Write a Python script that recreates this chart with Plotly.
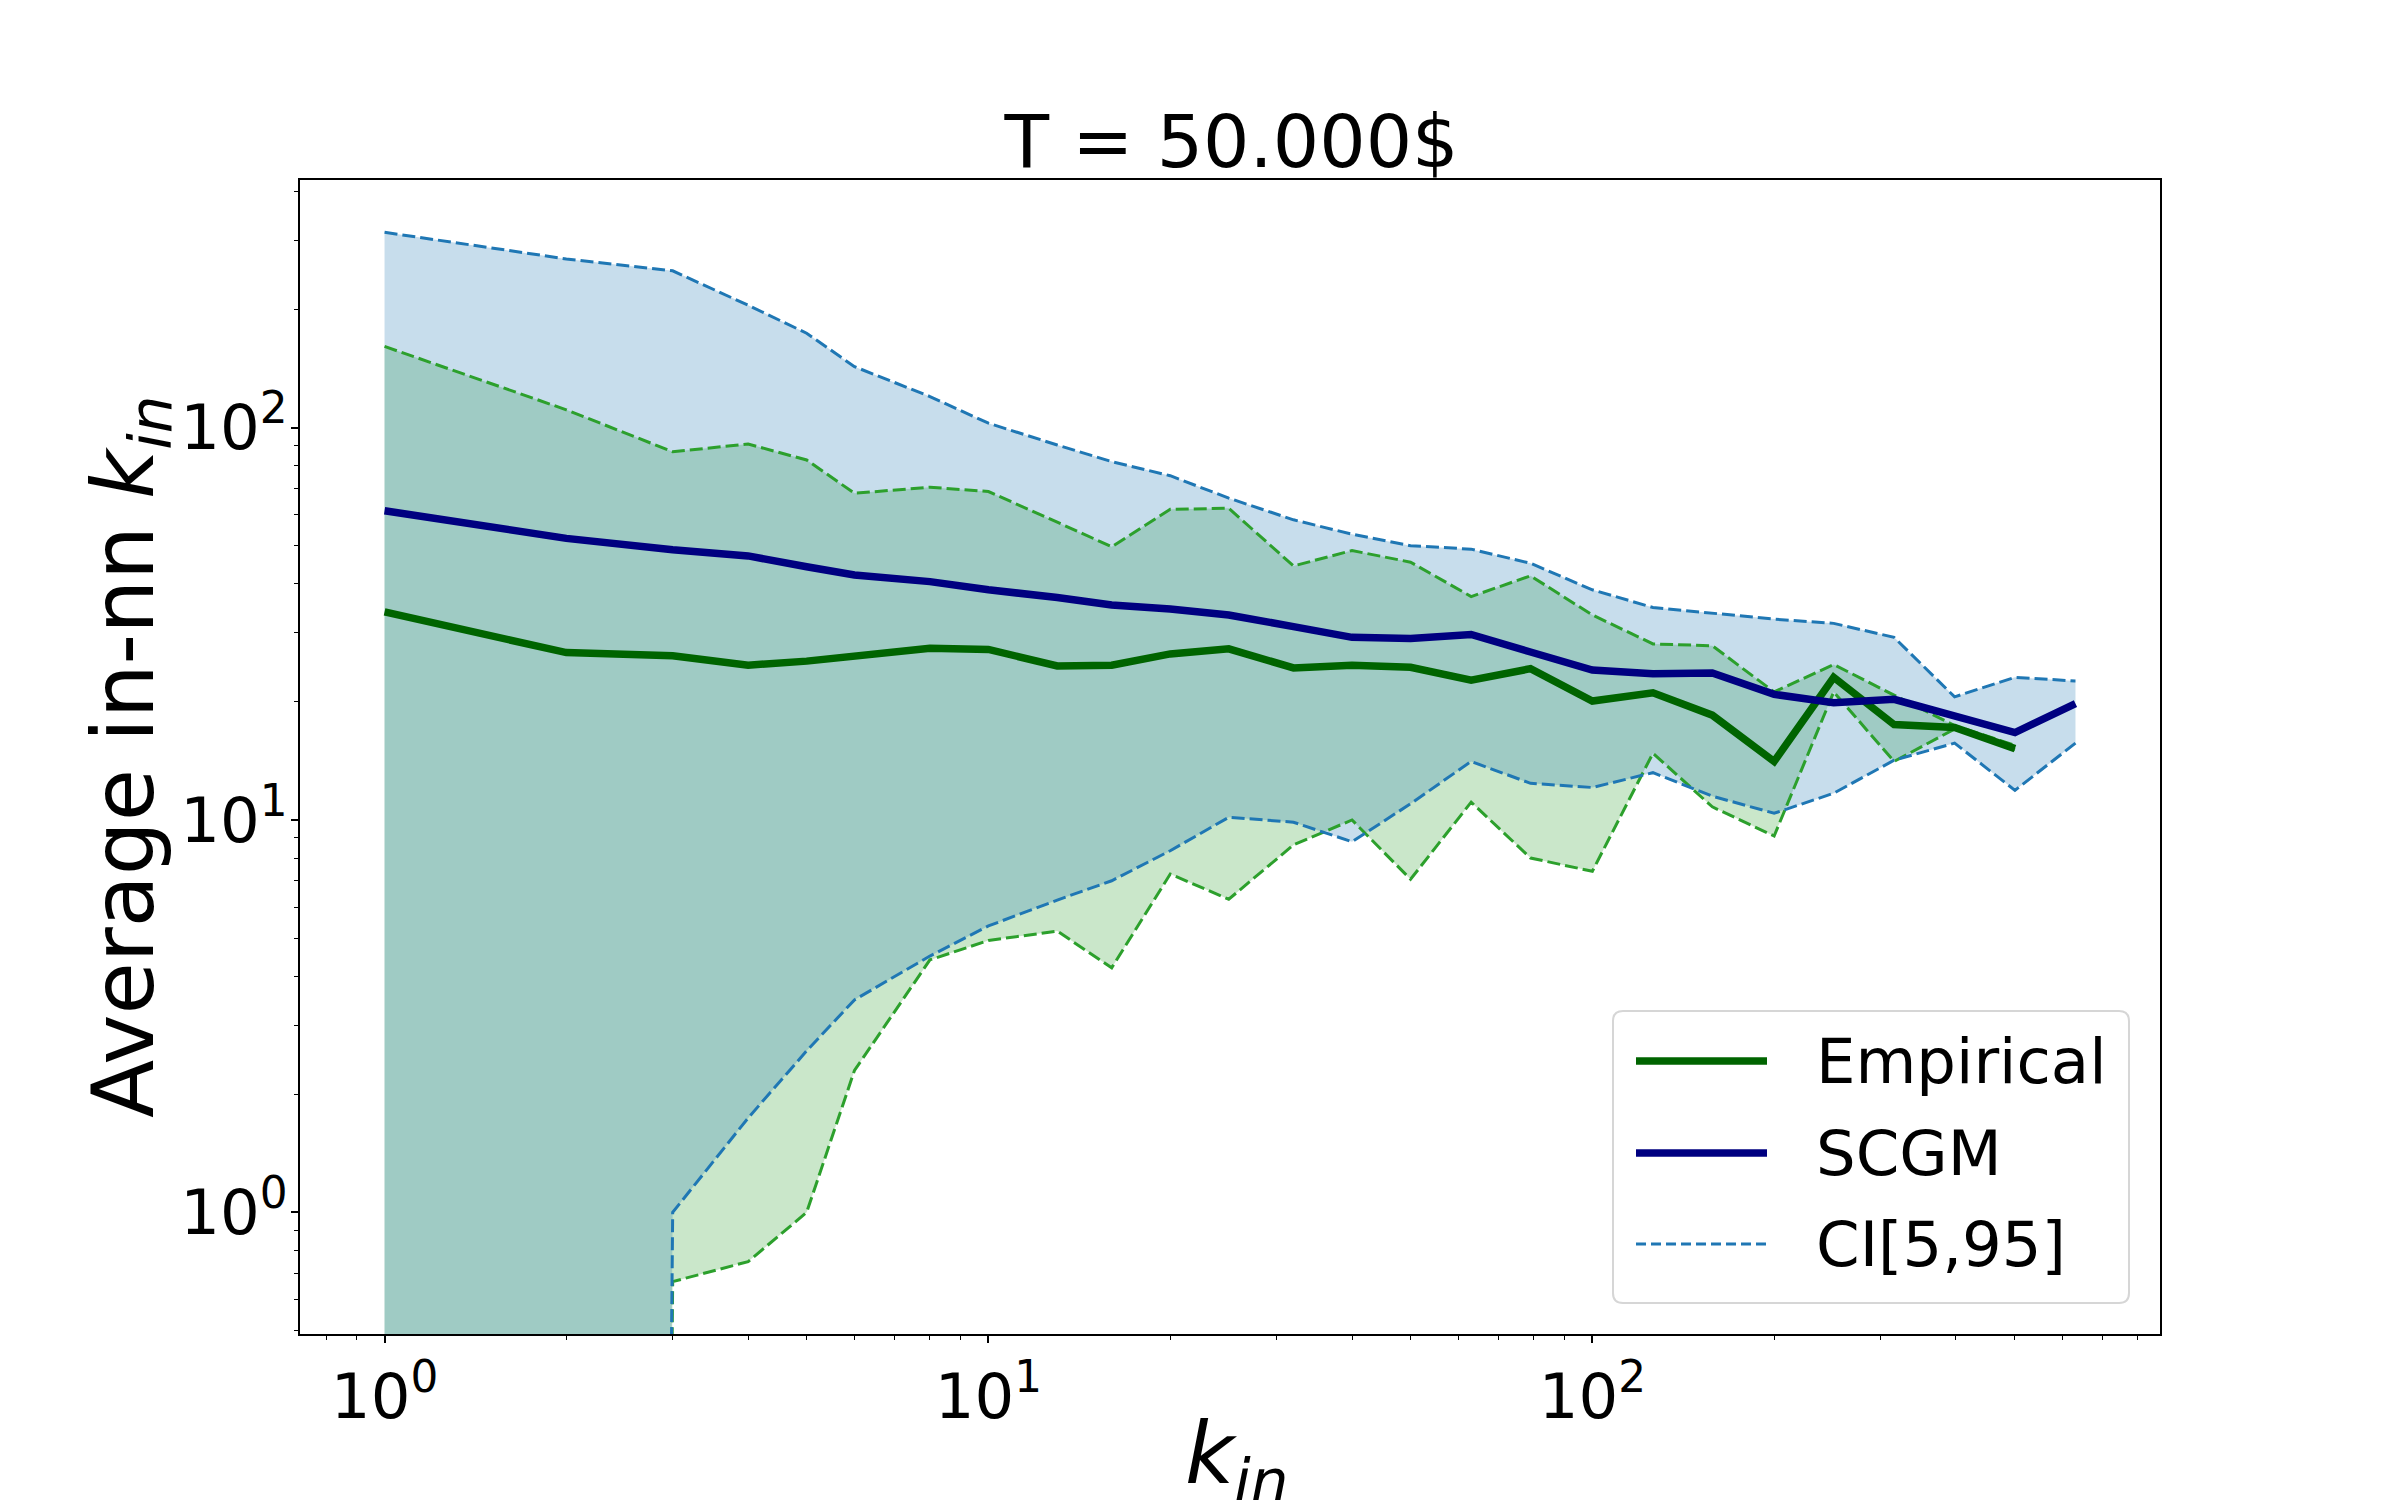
import plotly.graph_objects as go

# degree bins (x) and average in-nn degree curves
k_in = [1, 2, 3, 4, 5, 6, 8, 10, 13, 16, 20, 25, 32, 40, 50, 63, 79,
        100, 126, 158, 200, 251, 316, 398, 501, 631]

empirical = [33.9, 26.7, 26.2, 24.8, 25.4, 26.1, 27.4, 27.2, 24.7, 24.8,
             26.5, 27.3, 24.4, 24.8, 24.5, 22.7, 24.3, 20.1, 21.1, 18.5,
             14.1, 23.1, 17.5, 17.2, 15.2]
scgm = [61.4, 52.2, 48.8, 47.1, 44.2, 42.1, 40.5, 38.6, 36.9, 35.3,
        34.5, 33.3, 31.1, 29.2, 29.0, 29.7, 26.8, 24.1, 23.6, 23.7,
        20.9, 19.9, 20.3, 18.5, 16.7, 19.8]

# CI[5,95] bands (0 = lower bound at zero, off the log axis)
emp_ci_low = [0, 0, 0.666, 0.749, 1.0, 2.30, 4.40, 4.93, 5.21, 4.20,
              7.28, 6.28, 8.64, 10.0, 7.06, 11.1, 8.0, 7.4, 14.8, 10.8,
              9.1, 21.2, 14.1, 17.06, 15.1]
emp_ci_high = [161, 111, 86.8, 90.8, 82.7, 68, 70.5, 68.7, 57.4, 49.7,
               61.9, 62.3, 44.4, 48.6, 45.4, 37.1, 41.9, 33.3, 28.1, 27.8,
               21.2, 24.9, 20.8, 17.4, 15.5]
scgm_ci_low = [0, 0, 1.0, 1.74, 2.58, 3.48, 4.50, 5.37, 6.25, 7.0,
               8.35, 10.16, 9.87, 8.8, 11.0, 14.1, 12.4, 12.1, 13.2, 11.5,
               10.4, 11.7, 14.2, 15.7, 11.9, 15.7]
scgm_ci_high = [314.6, 269, 251, 205, 174, 143, 120, 102.6, 90.3, 81.9,
                75.4, 66.1, 58.2, 53.5, 50.0, 49.0, 45.1, 38.6, 34.8, 33.6,
                32.5, 31.7, 29.2, 20.6, 23.1, 22.6]

# page body has an 8px margin, so the figure is drawn 8px in from the corner
OFF = 8
W, H = 2400 - OFF, 1500 - OFF
PX0, PX1, PY0, PY1 = 300, 2160, 180, 1334        # plot area on the page
L, R = PX0 - OFF, W - (PX1 - OFF)
T, B = PY0 - OFF, H - (PY1 - OFF)
FONT = "DejaVu Sans"
FLOOR = 1e-30   # stand-in for zero on the log axis (matplotlib clips it)


def clip(vals):
    return [v if v > 0 else FLOOR for v in vals]


def paper(px, py):
    # page pixel -> paper coords of the plot area
    return (px - PX0) / (PX1 - PX0), (PY1 - py) / (PY1 - PY0)


fig = go.Figure()

n_emp = len(empirical)

# filled bands (green first, blue on top)
fig.add_trace(go.Scatter(x=k_in[:n_emp], y=clip(emp_ci_low), mode="lines",
                         line=dict(width=0), hoverinfo="skip", showlegend=False))
fig.add_trace(go.Scatter(x=k_in[:n_emp], y=emp_ci_high, mode="lines",
                         line=dict(width=0), fill="tonexty",
                         fillcolor="rgba(44,160,44,0.25)",
                         hoverinfo="skip", showlegend=False))
fig.add_trace(go.Scatter(x=k_in, y=clip(scgm_ci_low), mode="lines",
                         line=dict(width=0), hoverinfo="skip", showlegend=False))
fig.add_trace(go.Scatter(x=k_in, y=scgm_ci_high, mode="lines",
                         line=dict(width=0), fill="tonexty",
                         fillcolor="rgba(31,119,180,0.25)",
                         hoverinfo="skip", showlegend=False))

# dashed CI borders
dash = "13px,5px"
for xs, ys, col in [(k_in[:n_emp], emp_ci_low, "#2ca02c"),
                    (k_in[:n_emp], emp_ci_high, "#2ca02c"),
                    (k_in, scgm_ci_low, "#1f77b4"),
                    (k_in, scgm_ci_high, "#1f77b4")]:
    fig.add_trace(go.Scatter(x=xs, y=clip(ys), mode="lines",
                             line=dict(color=col, width=3, dash=dash),
                             showlegend=False))

fig.add_trace(go.Scatter(x=k_in[:n_emp], y=empirical, mode="lines",
                         name="Empirical",
                         line=dict(color="#006400", width=7.5),
                         showlegend=False))
fig.add_trace(go.Scatter(x=k_in, y=scgm, mode="lines", name="SCGM",
                         line=dict(color="#000080", width=7.5),
                         showlegend=False))

# legend box drawn by hand (matplotlib style, lower right)
x0, y0, x1, y1, rad = 1613, 1011, 2129, 1303, 10
pts = [("M", x0 + rad, y0), ("L", x1 - rad, y0), ("Q", x1, y0, x1, y0 + rad),
       ("L", x1, y1 - rad), ("Q", x1, y1, x1 - rad, y1), ("L", x0 + rad, y1),
       ("Q", x0, y1, x0, y1 - rad), ("L", x0, y0 + rad),
       ("Q", x0, y0, x0 + rad, y0)]
path = ""
for p in pts:
    cmd, coords = p[0], p[1:]
    xy = []
    for i in range(0, len(coords), 2):
        px, py = paper(coords[i], coords[i + 1])
        xy.append(f"{px:.5f},{py:.5f}")
    path += cmd + " ".join(xy) + " "
path += "Z"
fig.add_shape(type="path", path=path, xref="paper", yref="paper",
              line=dict(color="#d6d6d6", width=2),
              fillcolor="rgba(255,255,255,0.8)")

legend_items = [("Empirical", "#006400", 7.5, "solid", 1061),
                ("SCGM", "#000080", 7.5, "solid", 1153),
                ("CI[5,95]", "#1f77b4", 3, "10px,5px", 1244)]
for label, col, lw, ds, py in legend_items:
    ax0, ay = paper(1636, py)
    ax1, _ = paper(1767, py)
    fig.add_shape(type="line", xref="paper", yref="paper",
                  x0=ax0, x1=ax1, y0=ay, y1=ay,
                  line=dict(color=col, width=lw, dash=ds))
    tx, _ = paper(1814, py)
    fig.add_annotation(x=tx, y=ay, xref="paper", yref="paper", text=label,
                       showarrow=False, xanchor="left", yanchor="middle",
                       font=dict(family=FONT, size=62.5, color="black"))

# axis labels as annotations (placed like matplotlib's)
lx, ly = paper(129, 757)
fig.add_annotation(x=lx, y=ly, xref="paper", yref="paper",
                   text="Average in-nn <i>k</i><sub><i>in</i></sub>",
                   textangle=-90, showarrow=False,
                   xanchor="center", yanchor="middle",
                   font=dict(family=FONT, size=85, color="black"))
bx, by = paper(1236, 1402)
fig.add_annotation(x=bx, y=by, xref="paper", yref="paper",
                   text="<i>k</i><sub><i>in</i></sub>",
                   showarrow=False, xanchor="center", yanchor="top",
                   font=dict(family=FONT, size=85, color="black"))

axis_common = dict(
    type="log", showgrid=False, zeroline=False,
    showline=True, linecolor="black", linewidth=1.7, mirror=True,
    ticks="outside", ticklen=7, tickwidth=1.7, tickcolor="black",
    tickvals=[1, 10, 100],
    ticktext=["10<sup>0</sup>", "10<sup>1</sup>", "10<sup>2</sup>"],
    tickfont=dict(family=FONT, size=62.5, color="black"),
    minor=dict(ticks="outside", ticklen=4.2, tickwidth=1.3,
               tickcolor="black", dtick="D1", showgrid=False),
)

fig.update_layout(
    width=W, height=H,
    margin=dict(l=L, r=R, t=T, b=B, autoexpand=False),
    paper_bgcolor="white", plot_bgcolor="white",
    font=dict(family=FONT, color="black"),
    title=dict(text="T = 50.000$", x=0.5115, xanchor="center",
               y=1 - 133.5 / H, yanchor="middle", yref="container",
               font=dict(family=FONT, size=73, color="black")),
    xaxis=dict(axis_common, range=[-0.14, 2.94]),
    yaxis=dict(axis_common, range=[-0.31, 2.631], ticklabelstandoff=-9),
)

fig.write_html("out.html")
